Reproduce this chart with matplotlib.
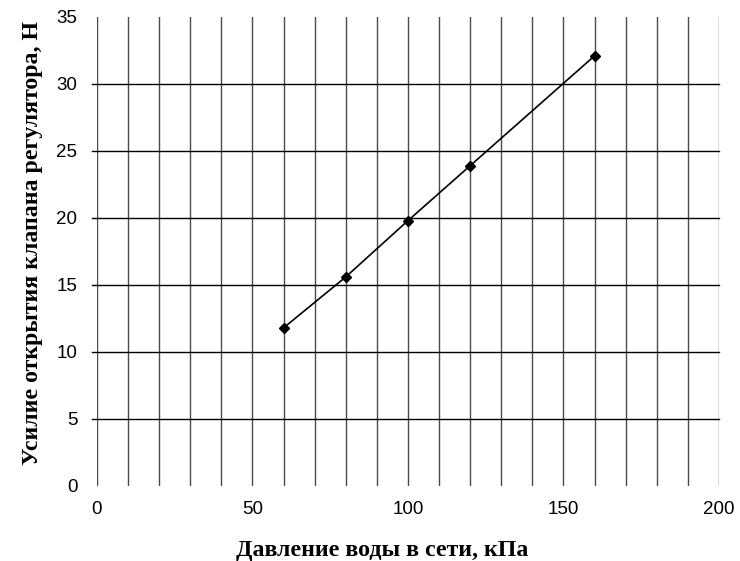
import matplotlib
matplotlib.use("Agg")
import matplotlib.pyplot as plt
import numpy as np

# Measured data: network water pressure vs. regulator valve opening force
pressure_kpa = [60, 80, 100, 120, 160]
force_n = [11.8, 15.6, 19.8, 23.9, 32.1]

x_ticks = [0, 50, 100, 150, 200]
y_ticks = [0, 5, 10, 15, 20, 25, 30, 35]

fig = plt.figure(figsize=(7.4, 5.61), dpi=100)
ax = fig.add_axes([0.131, 0.1337, 0.8405, 0.836])

ax.set_xlim(0, 200)
ax.set_ylim(0, 35)

# Vertical grid every 10 kPa
for xv in np.arange(0, 201, 10):
    ax.axvline(xv, color="#4a4a4a", lw=1.0, zorder=1)
# Horizontal grid every 5 N (inner lines only, with short stubs left of the axis)
for yv in np.arange(5, 35, 5):
    ax.plot([-1.6, 200], [yv, yv], color="black", lw=1.0, zorder=1, clip_on=False)

ax.plot(pressure_kpa, force_n, color="black", lw=1.2, marker="D", ms=5.2, zorder=3)

for s in ax.spines.values():
    s.set_visible(False)

ax.set_xticks(x_ticks)
ax.set_yticks(y_ticks)
ax.tick_params(length=0, labelsize=13.5)
ax.tick_params(axis="x", pad=11)
ax.tick_params(axis="y", pad=14)
for lab in ax.get_xticklabels() + ax.get_yticklabels():
    lab.set_fontfamily("Liberation Sans")

ax.set_xlabel("Давление воды в сети, кПа", fontfamily="Liberation Serif",
              fontweight="bold", fontsize=17.2)
ax.set_ylabel("Усилие открытия клапана регулятора, Н", fontfamily="Liberation Serif",
              fontweight="bold", fontsize=17.2)
ax.xaxis.set_label_coords(0.459, -0.116)
ax.yaxis.set_label_coords(-0.086, 0.518)

fig.savefig("out.png", dpi=100)
